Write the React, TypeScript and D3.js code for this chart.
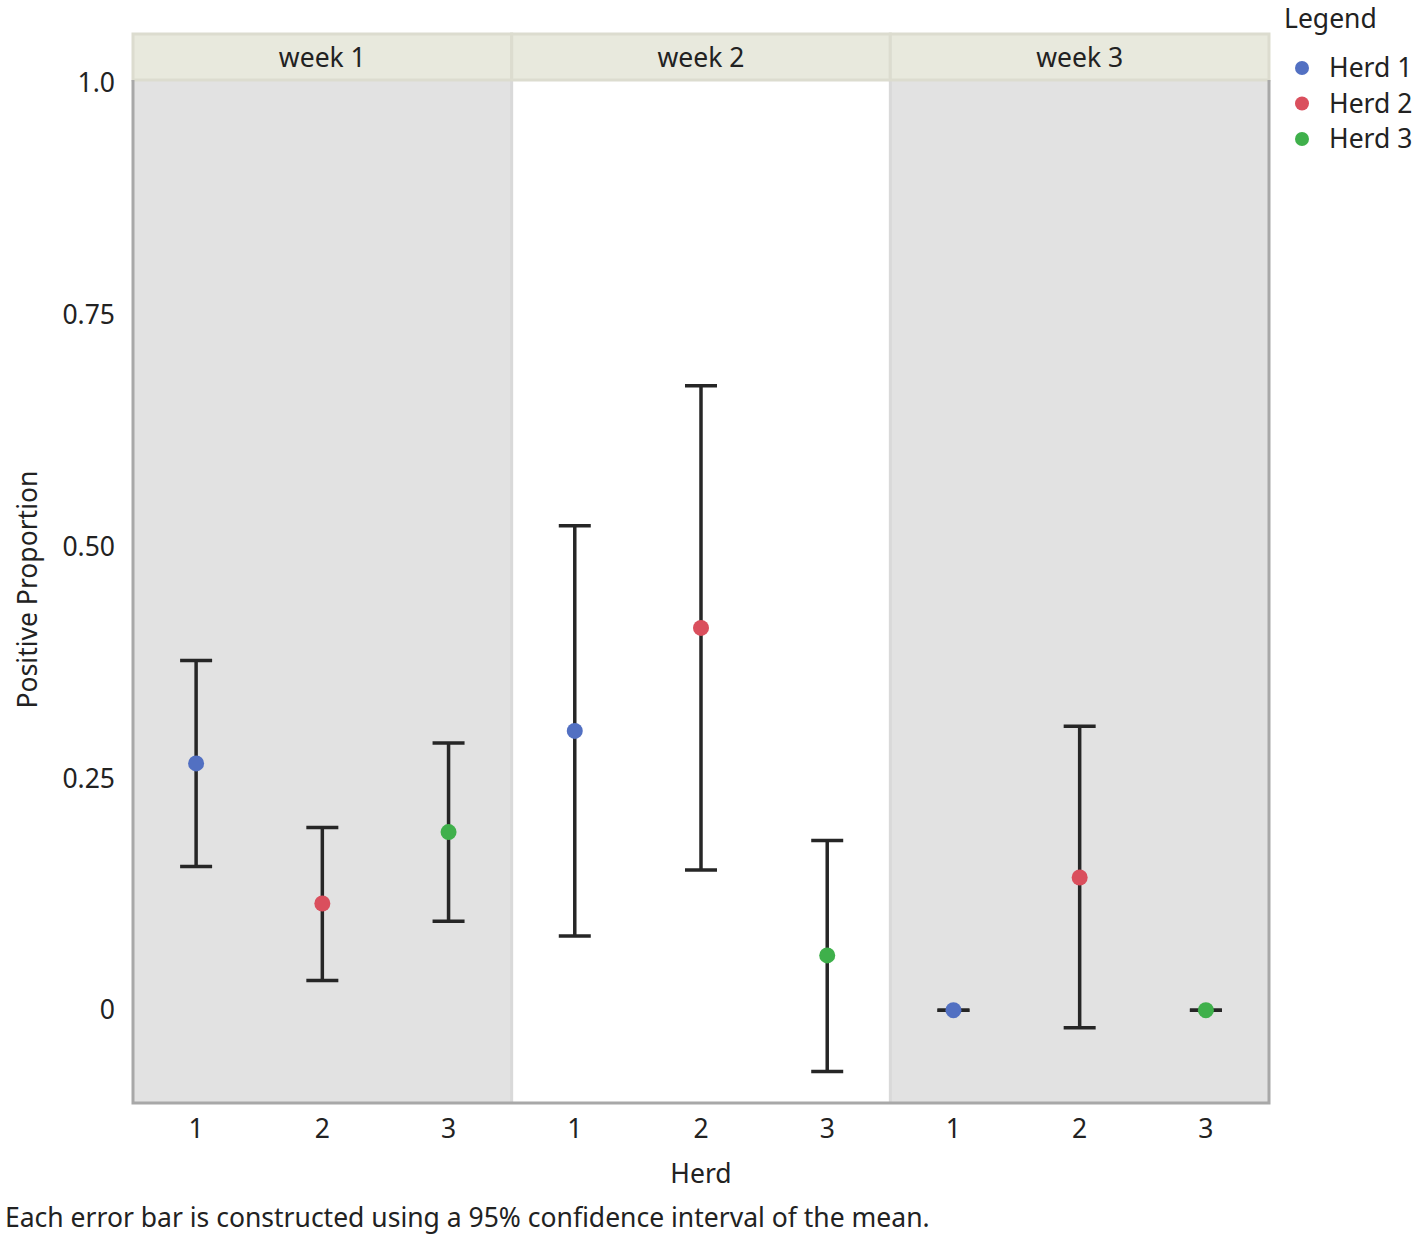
import * as d3 from "d3";

const weeks = ["week 1", "week 2", "week 3"];
const herds = ["1", "2", "3"];
const herdNames = ["Herd 1", "Herd 2", "Herd 3"];
const herdColors = ["#5270c2", "#da4f5d", "#3fb04b"];

// mean, lower, upper per week (rows) and herd (columns)
const means = [
  [0.266, 0.115, 0.192],
  [0.301, 0.412, 0.059],
  [0, 0.143, 0],
];
const lowers = [
  [0.155, 0.032, 0.096],
  [0.08, 0.151, -0.066],
  [0, -0.019, 0],
];
const uppers = [
  [0.377, 0.197, 0.288],
  [0.522, 0.673, 0.183],
  [0, 0.306, 0],
];

const yTicks = [0, 0.25, 0.5, 0.75, 1.0];
const yTickLabels = ["0", "0.25", "0.50", "0.75", "1.0"];

const panelFills = ["#e2e2e2", "#ffffff", "#e2e2e2"];

const width = 1418;
const height = 1241;
const margin = { top: 80, right: 149, bottom: 138, left: 133 };
const font = "'Segoe UI', 'Noto Sans', sans-serif";
const fs = 26.5;

export default function App() {
  const innerW = width - margin.left - margin.right;
  const innerH = height - margin.top - margin.bottom;

  const y = d3.scaleLinear().domain([-0.1, 1.0025]).range([innerH, 0]);
  const panel = d3.scaleBand().domain(weeks).range([0, innerW]);
  const x = d3.scalePoint().domain(herds).range([0, panel.bandwidth()]).padding(0.5);
  const cap = 16;

  return (
    <svg
      width={width}
      height={height}
      style={{ position: "absolute", left: 0, top: 0, fontFamily: font }}
    >
      <g transform={`translate(${margin.left},${margin.top})`}>
        {weeks.map((w, wi) => {
          const px = panel(w) as number;
          return (
            <g key={w} transform={`translate(${px},0)`}>
              <rect x={0} y={0} width={panel.bandwidth()} height={innerH} fill={panelFills[wi]} />
              {wi > 0 && (
                <line x1={0} x2={0} y1={0} y2={innerH} stroke="#d9d9d9" strokeWidth={3} />
              )}
              <rect
                x={0}
                y={-46}
                width={panel.bandwidth()}
                height={46}
                fill="#e8e9dd"
                stroke="#dcdccf"
                strokeWidth={3}
              />
              <text
                x={panel.bandwidth() / 2}
                y={-13}
                textAnchor="middle"
                fontSize={fs}
                fill="#222"
              >
                {w}
              </text>
              {herds.map((h, hi) => {
                const cx = x(h) as number;
                return (
                  <g key={h}>
                    <line
                      x1={cx}
                      x2={cx}
                      y1={y(lowers[wi][hi])}
                      y2={y(uppers[wi][hi])}
                      stroke="#262626"
                      strokeWidth={3.5}
                    />
                    <line
                      x1={cx - cap}
                      x2={cx + cap}
                      y1={y(lowers[wi][hi])}
                      y2={y(lowers[wi][hi])}
                      stroke="#262626"
                      strokeWidth={3.5}
                    />
                    <line
                      x1={cx - cap}
                      x2={cx + cap}
                      y1={y(uppers[wi][hi])}
                      y2={y(uppers[wi][hi])}
                      stroke="#262626"
                      strokeWidth={3.5}
                    />
                    <circle cx={cx} cy={y(means[wi][hi])} r={8} fill={herdColors[hi]} />
                    <text
                      x={cx}
                      y={innerH + 35}
                      textAnchor="middle"
                      fontSize={fs}
                      fill="#222"
                    >
                      {h}
                    </text>
                  </g>
                );
              })}
            </g>
          );
        })}

        {/* frame */}
        <path
          d={`M0,0V${innerH}H${innerW}V0`}
          fill="none"
          stroke="#a8a8a8"
          strokeWidth={3}
        />

        {yTicks.map((t, i) => (
          <text
            key={t}
            x={-18}
            y={y(t)}
            dy="0.35em"
            textAnchor="end"
            fontSize={fs}
            fill="#222"
          >
            {yTickLabels[i]}
          </text>
        ))}

        <text
          transform={`translate(${-96},${innerH / 2 - 2}) rotate(-90)`}
          textAnchor="middle"
          fontSize={fs}
          fill="#222"
        >
          Positive Proportion
        </text>
        <text x={innerW / 2} y={innerH + 80} textAnchor="middle" fontSize={fs} fill="#222">
          Herd
        </text>
      </g>

      <text x={5} y={1227} fontSize={fs} fill="#222">
        Each error bar is constructed using a 95% confidence interval of the mean.
      </text>

      <g transform="translate(1284,0)">
        <text x={0} y={28} fontSize={fs} fill="#222">
          Legend
        </text>
        {herdNames.map((n, i) => (
          <g key={n} transform={`translate(0,${68 + i * 35.5})`}>
            <circle cx={18} cy={0} r={7} fill={herdColors[i]} />
            <text x={45} y={0} dy="0.35em" fontSize={fs} fill="#222">
              {n}
            </text>
          </g>
        ))}
      </g>
    </svg>
  );
}
